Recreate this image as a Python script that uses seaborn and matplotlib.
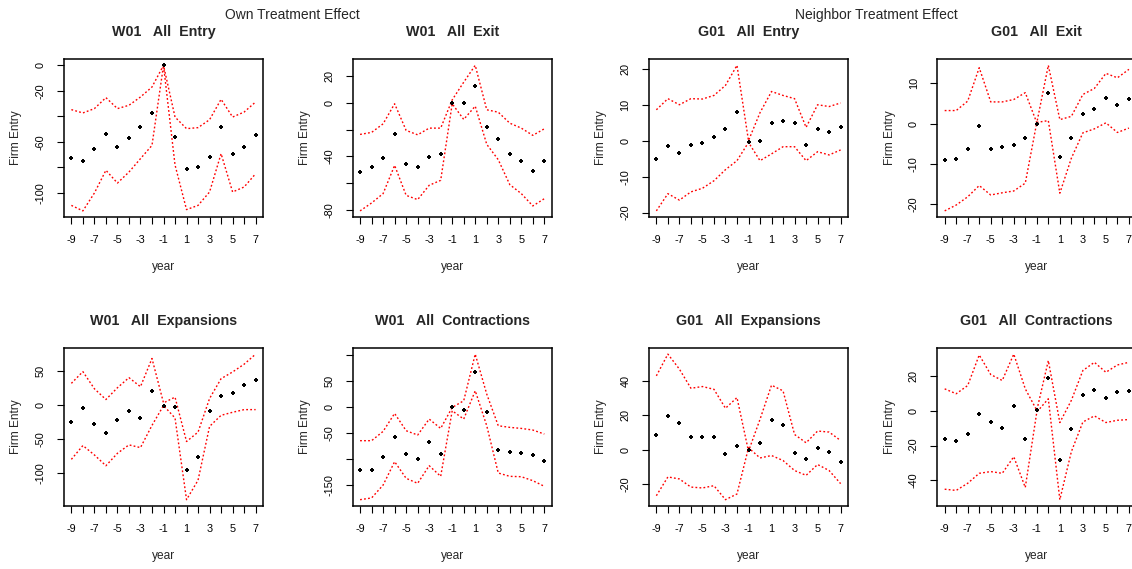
import numpy
import pandas
import seaborn
import matplotlib
matplotlib.use("Agg")
from matplotlib import pyplot as plt

years = list(range(-9, 8))
year_labels = [str(y) if y % 2 else "" for y in years]

# W01 All Entry
w01_entry = [-72.3, -75.2, -65.8, -53.8, -64.0, -56.7, -48.3, -37.6, 0.0, -56.4, -80.9, -79.9, -71.5, -48.3, -69.7, -64.0, -54.6]
w01_entry_hi = [-34.7, -37.3, -33.9, -25.3, -33.9, -31.3, -24.8, -17.0, 0.0, -40.5, -49.6, -48.8, -42.6, -26.6, -40.5, -36.6, -28.7]
w01_entry_lo = [-109.7, -114.0, -100.0, -82.2, -92.2, -83.6, -73.1, -62.7, 0.0, -78.0, -113.0, -109.7, -99.2, -69.2, -99.2, -95.3, -84.9]

# W01 All Exit
w01_exit = [-51.9, -48.2, -41.0, -23.4, -45.7, -48.2, -40.2, -38.5, 0.0, 0.0, 12.4, -18.1, -26.8, -38.5, -43.7, -50.9, -43.7]
w01_exit_hi = [-23.6, -22.1, -15.7, -0.7, -20.6, -23.9, -18.9, -18.9, 2.2, 15.4, 28.0, -5.2, -7.0, -15.2, -18.9, -24.3, -19.4]
w01_exit_lo = [-80.7, -74.8, -67.8, -46.7, -69.1, -72.3, -61.6, -57.9, -0.7, -12.4, -2.5, -31.0, -42.5, -61.1, -67.8, -77.0, -71.6]

# G01 All Entry
g01_entry = [-5.0, -1.4, -3.4, -1.1, -0.7, 1.0, 3.4, 8.0, -0.3, 0.0, 5.0, 5.6, 5.0, -1.1, 3.4, 2.6, 4.0]
g01_entry_hi = [8.7, 11.8, 10.1, 11.8, 11.7, 12.7, 15.5, 21.1, 0.1, 7.9, 13.8, 12.7, 11.8, 3.8, 10.1, 9.6, 10.6]
g01_entry_lo = [-19.5, -14.7, -16.5, -14.2, -13.2, -11.1, -8.0, -5.5, -0.4, -5.5, -3.6, -1.6, -1.6, -5.5, -3.0, -3.9, -2.5]

# G01 All Exit
g01_exit = [-9.0, -8.7, -6.25, -0.7, -6.25, -5.75, -5.4, -3.6, -0.1, 7.5, -8.4, -3.6, 2.3, 3.7, 6.25, 4.75, 6.0]
g01_exit_hi = [3.25, 3.25, 5.6, 13.9, 5.4, 5.4, 6.0, 7.7, 0.2, 14.5, 1.0, 1.8, 7.25, 8.75, 12.5, 11.4, 13.5]
g01_exit_lo = [-21.7, -20.25, -18.2, -15.4, -17.75, -17.2, -16.75, -14.8, 0.3, 0.75, -17.3, -8.6, -2.3, -1.3, 0.2, -2.2, -1.1]

# W01 All Expansions
w01_expan = [-25.0, -4.9, -28.4, -40.7, -22.5, -8.3, -19.1, 19.6, -1.0, -3.4, -95.1, -75.5, -8.3, 12.3, 17.6, 28.4, 35.8]
w01_expan_hi = [31.4, 48.5, 23.5, 7.8, 25.0, 39.7, 26.5, 67.6, 2.9, 11.3, -53.4, -39.7, 9.3, 38.2, 48.0, 59.3, 74.0]
w01_expan_lo = [-79.4, -59.3, -73.0, -88.7, -70.6, -58.3, -62.3, -29.9, -1.0, -19.1, -138.2, -109.8, -31.4, -15.2, -10.8, -6.9, -6.9]

# W01 All Contractions
w01_contr = [-120.5, -120.5, -96.9, -58.7, -90.6, -99.5, -67.6, -90.6, 0.0, -5.7, 65.7, -9.6, -83.5, -86.1, -88.0, -93.1, -104.6]
w01_contr_hi = [-65.0, -65.0, -47.2, -12.8, -45.9, -54.2, -23.6, -41.5, -1.3, 11.5, 100.8, 24.2, -36.4, -39.5, -41.5, -44.6, -52.3]
w01_contr_lo = [-178.0, -174.7, -150.0, -105.2, -137.1, -146.7, -112.9, -133.3, -7.7, -23.6, 30.6, -36.4, -126.9, -133.3, -134.0, -141.6, -152.4]

# G01 All Expansions
g01_expan = [8.5, 19.8, 15.7, 7.2, 7.2, 7.2, -2.7, 2.3, 0.0, 3.7, 17.1, 14.4, -1.9, -5.4, 1.0, -1.4, -6.8]
g01_expan_hi = [42.9, 55.5, 46.8, 35.7, 36.7, 35.1, 24.1, 30.3, -0.8, 17.7, 37.5, 34.2, 8.9, 4.1, 10.9, 10.3, 5.4]
g01_expan_lo = [-26.6, -15.7, -16.9, -21.6, -22.1, -20.8, -28.9, -25.6, 1.2, -4.7, -3.3, -6.2, -12.0, -14.8, -8.5, -12.0, -19.6]

# G01 All Contractions
g01_contr = [-16.1, -17.5, -13.5, -1.9, -6.6, -9.9, 2.8, -16.1, 0.2, 18.6, -28.5, -10.6, 8.9, 11.8, 7.0, 10.6, 11.2]
g01_contr_hi = [12.5, 9.7, 14.4, 31.9, 20.7, 17.3, 32.4, 12.5, 0.2, 28.7, -6.8, 5.9, 23.0, 27.7, 22.0, 26.2, 27.7]
g01_contr_lo = [-45.0, -45.7, -41.6, -35.9, -34.9, -35.9, -26.4, -44.0, -0.8, 6.8, -51.0, -23.5, -6.5, -3.0, -6.8, -5.5, -5.1]

panel_titles = [
    "W01   All  Entry", "W01   All  Exit", "G01   All  Entry", "G01   All  Exit",
    "W01   All  Expansions", "W01   All  Contractions", "G01   All  Expansions", "G01   All  Contractions",
]
panel_yticks = [
    [0, -20, -40, -60, -80, -100],
    [20, 0, -20, -40, -60, -80],
    [20, 10, 0, -10, -20],
    [10, 0, -10, -20],
    [50, 0, -50, -100],
    [100, 50, 0, -50, -100, -150],
    [40, 20, 0, -20],
    [20, 0, -20, -40],
]
# R drops tick labels that would overlap
panel_ylabels = [
    ["0", "-20", "", "-60", "", "-100"],
    ["20", "0", "", "-40", "", "-80"],
    ["20", "10", "0", "-10", "-20"],
    ["10", "0", "-10", "-20"],
    ["50", "0", "-50", "-100"],
    ["", "50", "0", "-50", "", "-150"],
    ["40", "20", "0", "-20"],
    ["20", "0", "-20", "-40"],
]
panel_series = [
    (w01_entry, w01_entry_hi, w01_entry_lo),
    (w01_exit, w01_exit_hi, w01_exit_lo),
    (g01_entry, g01_entry_hi, g01_entry_lo),
    (g01_exit, g01_exit_hi, g01_exit_lo),
    (w01_expan, w01_expan_hi, w01_expan_lo),
    (w01_contr, w01_contr_hi, w01_contr_lo),
    (g01_expan, g01_expan_hi, g01_expan_lo),
    (g01_contr, g01_contr_hi, g01_contr_lo),
]

seaborn.set_style("ticks")
plt.rcParams["font.family"] = ["Liberation Sans", "DejaVu Sans"]

W, H = 1132, 569
fig = plt.figure(figsize=(W / 100, H / 100), dpi=100)

# panel boxes in pixels (left, top), R-like layout
col_left = [64, 352.7, 649, 937.3]
row_top = [59.5, 348.3]
box_w, box_h = 199, 157.2


def draw_panel(ax, est, hi, lo, title, yticks, ylabels):
    df = pandas.DataFrame({"year": years, "est": est, "hi": hi, "lo": lo})

    for col in ["hi", "lo"]:
        seaborn.lineplot(
            data=df, x="year", y=col, ax=ax, color="red",
            linewidth=1.0, linestyle=(0, (1.3, 1.6)), estimator=None,
        )
    seaborn.scatterplot(
        data=df, x="year", y="est", ax=ax, color="black",
        marker="P", s=11, linewidth=0, zorder=3,
    )

    # R default axes: 4% padding on each side of the data range
    ymin = min(df[["est", "hi", "lo"]].min())
    ymax = max(df[["est", "hi", "lo"]].max())
    pad = (ymax - ymin) * 0.04
    ax.set_ylim(ymin - pad, ymax + pad)
    ax.set_xlim(years[0] - 0.64, years[-1] + 0.64)

    ax.set_xticks(years)
    ax.set_xticklabels(year_labels)
    ax.set_yticks(yticks)
    ax.set_yticklabels(ylabels, rotation=90, va="center")

    ax.tick_params(direction="out", length=4.8, width=0.8, color="black",
                   labelsize=7.8, labelcolor="black", pad=8.5)

    for side in ["left", "right", "top", "bottom"]:
        ax.spines[side].set_visible(True)
        ax.spines[side].set_color("black")
        ax.spines[side].set_linewidth(1.1)

    ax.set_title(title, fontsize=10.3, fontweight="bold", pad=17)
    ax.set_xlabel("year", fontsize=8.6)
    ax.set_ylabel("Firm Entry", fontsize=8.6)
    ax.xaxis.set_label_coords(0.5, -0.28)
    ax.yaxis.set_label_coords(-0.21, 0.5)
    return ax


for i, (series, title, yt, yl) in enumerate(
    zip(panel_series, panel_titles, panel_yticks, panel_ylabels)
):
    r, c = divmod(i, 4)
    left = col_left[c] / W
    bottom = 1 - (row_top[r] + box_h) / H
    ax = fig.add_axes([left, bottom, box_w / W, box_h / H])
    draw_panel(ax, *series, title, yt, yl)

fig.text(292 / W, 1 - 15 / H, "Own Treatment Effect", ha="center", va="center", fontsize=10)
fig.text(876 / W, 1 - 15 / H, "Neighbor Treatment Effect", ha="center", va="center", fontsize=10)

fig.savefig("out.png", dpi=100)
